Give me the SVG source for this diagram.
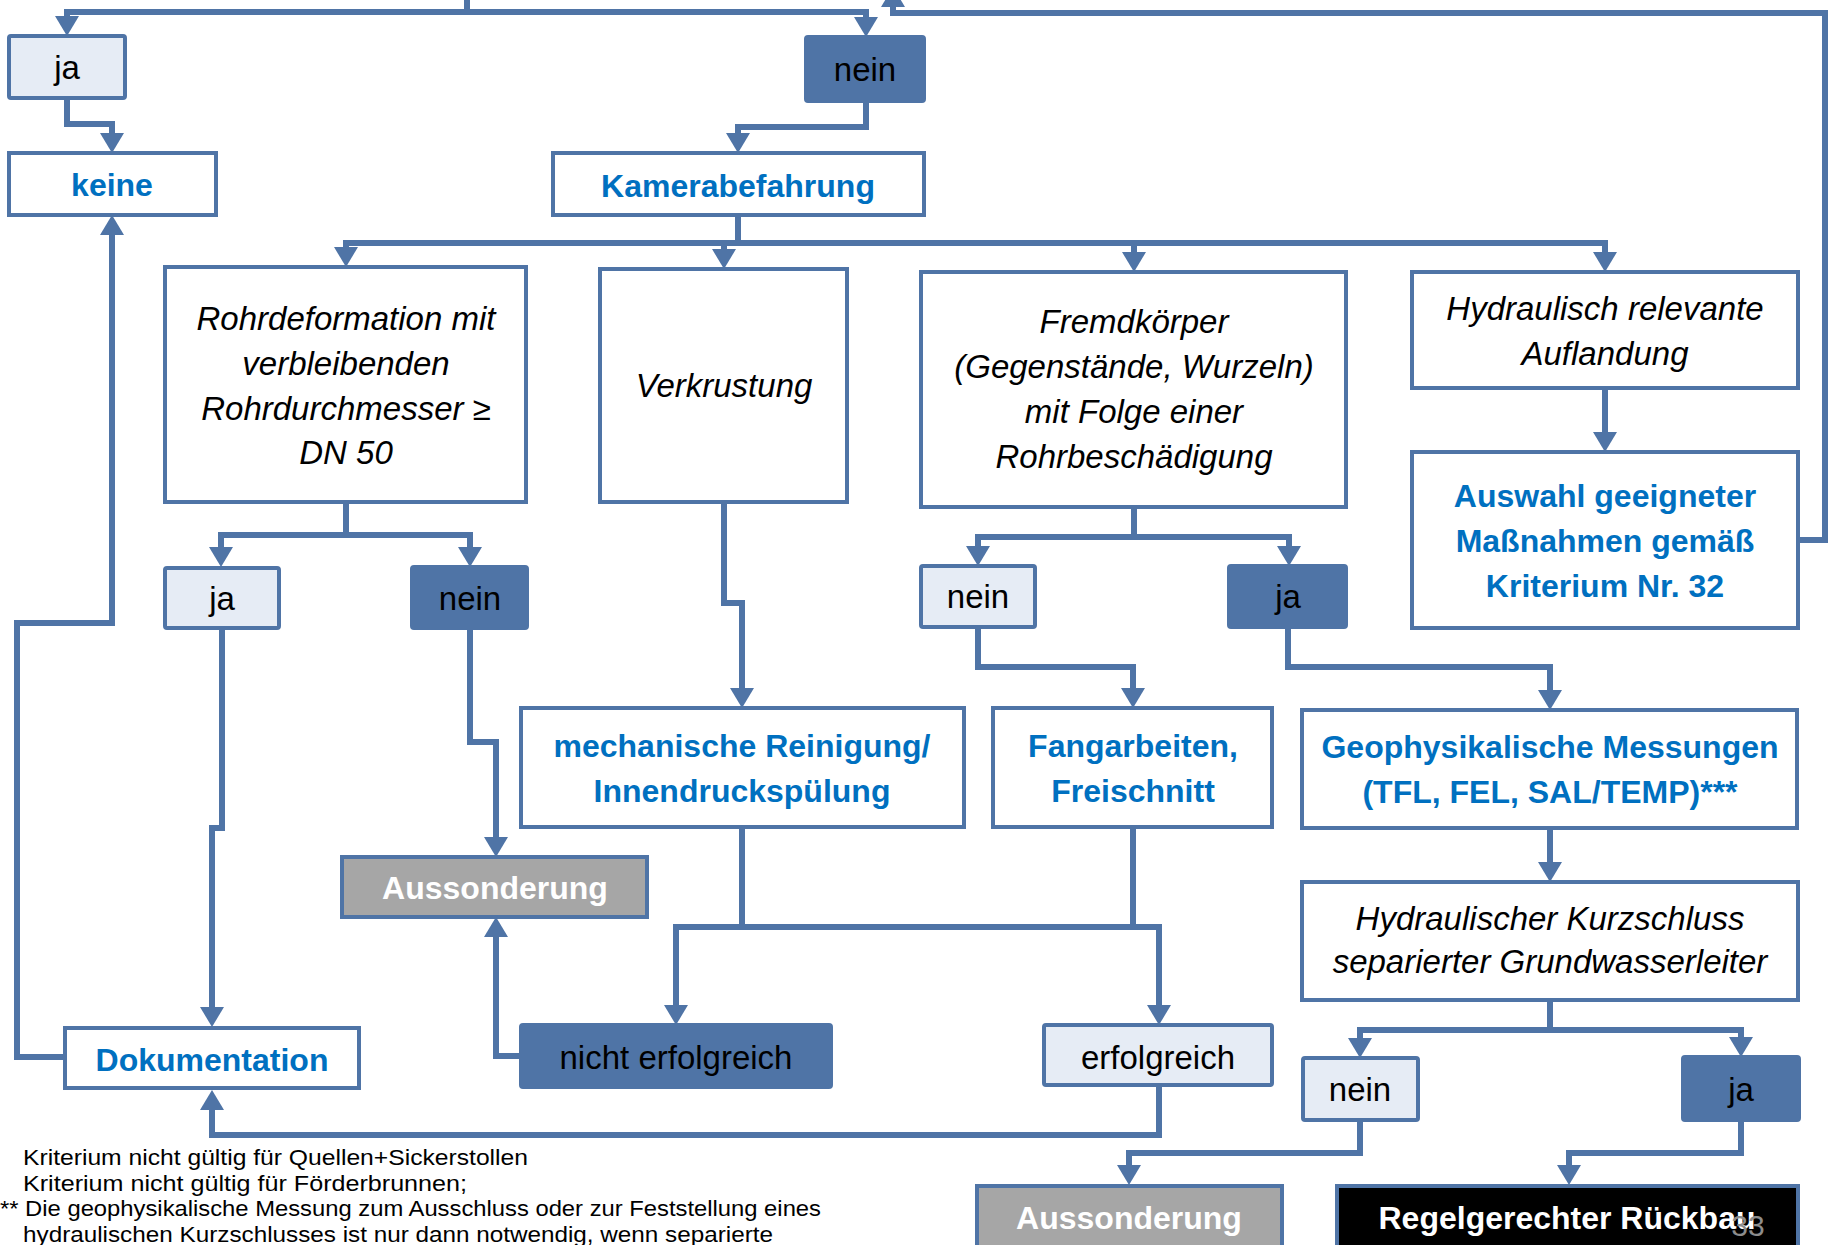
<svg xmlns="http://www.w3.org/2000/svg" width="1839" height="1245" viewBox="0 0 1839 1245">
<style>
.b{stroke:#4F74A6;stroke-width:4;}
.w{fill:#FFFFFF;}
.l{fill:#E6ECF5;}
.d{fill:#4F74A6;}
.g{fill:#A6A6A6;}
.k{fill:#000000;}
text{font-family:"Liberation Sans",Arial,sans-serif;text-anchor:middle;}
.t{font-size:33px;fill:#000;}
.i{font-size:33px;font-style:italic;fill:#000;}
.bl{font-size:32px;font-weight:bold;fill:#0070C0;}
.wh{font-size:32px;font-weight:bold;fill:#FFFFFF;}
.fn{font-size:22px;fill:#000;text-anchor:start;}
.c{fill:none;stroke:#4F74A6;stroke-width:6;stroke-linejoin:miter;}
.ca{fill:none;stroke:#4F74A6;stroke-width:6;stroke-linejoin:miter;marker-end:url(#ah);}
</style>
<defs>
<marker id="ah" viewBox="0 0 20 24" refX="4" refY="12" markerWidth="20" markerHeight="24" markerUnits="userSpaceOnUse" orient="auto">
<path d="M0,0 L20,12 L0,24 z" fill="#4F74A6"/>
</marker>
</defs>
<rect width="1839" height="1245" fill="#FFFFFF"/>
<g id="connectors">
<path class="c" d="M467,-5 V12"/>
<path class="ca" d="M467,12 H67 V20"/>
<path class="ca" d="M467,12 H866 V21"/>
<path class="ca" d="M67,98 V124 H112 V137"/>
<path class="ca" d="M866,101 V127 H738 V137"/>
<path class="c" d="M738,215 V243"/>
<path class="ca" d="M738,243 H346 V251"/>
<path class="ca" d="M724,243 V253"/>
<path class="ca" d="M738,243 H1134 V256"/>
<path class="ca" d="M1134,243 H1605 V256"/>
<path class="ca" d="M1605,388 V436"/>
<path class="ca" d="M1798,540 H1825 V13 H893 V3"/>
<path class="c" d="M346,502 V535"/>
<path class="ca" d="M346,535 H221 V551"/>
<path class="ca" d="M346,535 H470 V551"/>
<path class="c" d="M1134,507 V537"/>
<path class="ca" d="M1134,537 H978 V550"/>
<path class="ca" d="M1134,537 H1289 V550"/>
<path class="ca" d="M65,1057 H17 V623 H112 V231"/>
<path class="ca" d="M222,628 V828 H212 V1011"/>
<path class="ca" d="M470,628 V742 H496 V841"/>
<path class="ca" d="M724,502 V603 H742 V692"/>
<path class="ca" d="M978,627 V667 H1133 V692"/>
<path class="ca" d="M1288,627 V667 H1550 V694"/>
<path class="ca" d="M1550,828 V866"/>
<path class="ca" d="M742,827 V927 H676 V1009"/>
<path class="ca" d="M1133,827 V927 H1159 V1009"/>
<path class="c" d="M742,927 H1133"/>
<path class="ca" d="M521,1056 H496 V933"/>
<path class="ca" d="M1159,1085 V1135 H212 V1106"/>
<path class="c" d="M1550,1000 V1030"/>
<path class="ca" d="M1550,1030 H1360 V1042"/>
<path class="ca" d="M1550,1030 H1741 V1041"/>
<path class="ca" d="M1360,1120 V1153 H1129 V1169"/>
<path class="ca" d="M1741,1120 V1153 H1569 V1169"/>
</g>
<g id="n_ja_top"><rect class="b l" x="9" y="36" width="116" height="62" rx="2"/><text class="t" x="67" y="79">ja</text></g>
<g id="n_keine"><rect class="b w" x="9" y="153" width="207" height="62"/><text class="bl" x="112" y="196">keine</text></g>
<g id="n_nein_top"><rect class="b d" x="806" y="37" width="118" height="64" rx="2"/><text class="t" x="865" y="81">nein</text></g>
<g id="n_kamera"><rect class="b w" x="553" y="153" width="371" height="62"/><text class="bl" x="738" y="197">Kamerabefahrung</text></g>
<g id="n_rohr"><rect class="b w" x="165" y="267" width="361" height="235"/>
<text class="i" x="346" y="330">Rohrdeformation mit</text>
<text class="i" x="346" y="375">verbleibenden</text>
<text class="i" x="346" y="420">Rohrdurchmesser ≥</text>
<text class="i" x="346" y="464">DN 50</text></g>
<g id="n_verk"><rect class="b w" x="600" y="269" width="247" height="233"/><text class="i" x="724" y="397">Verkrustung</text></g>
<g id="n_fremd"><rect class="b w" x="921" y="272" width="425" height="235"/>
<text class="i" x="1134" y="333">Fremdkörper</text>
<text class="i" x="1134" y="378">(Gegenstände, Wurzeln)</text>
<text class="i" x="1134" y="423">mit Folge einer</text>
<text class="i" x="1134" y="468">Rohrbeschädigung</text></g>
<g id="n_hydrel"><rect class="b w" x="1412" y="272" width="386" height="116"/>
<text class="i" x="1605" y="320">Hydraulisch relevante</text>
<text class="i" x="1605" y="365">Auflandung</text></g>
<g id="n_auswahl"><rect class="b w" x="1412" y="452" width="386" height="176"/>
<text class="bl" x="1605" y="507">Auswahl geeigneter</text>
<text class="bl" x="1605" y="552">Maßnahmen gemäß</text>
<text class="bl" x="1605" y="597">Kriterium Nr. 32</text></g>
<g id="n_ja_r"><rect class="b l" x="165" y="568" width="114" height="60" rx="2"/><text class="t" x="222" y="610">ja</text></g>
<g id="n_nein_r"><rect class="b d" x="412" y="567" width="115" height="61" rx="2"/><text class="t" x="470" y="610">nein</text></g>
<g id="n_nein_f"><rect class="b l" x="921" y="566" width="114" height="61" rx="2"/><text class="t" x="978" y="608">nein</text></g>
<g id="n_ja_f"><rect class="b d" x="1229" y="566" width="117" height="61" rx="2"/><text class="t" x="1288" y="608">ja</text></g>
<g id="n_mech"><rect class="b w" x="521" y="708" width="443" height="119"/>
<text class="bl" x="742" y="757">mechanische Reinigung/</text>
<text class="bl" x="742" y="802">Innendruckspülung</text></g>
<g id="n_fang"><rect class="b w" x="993" y="708" width="279" height="119"/>
<text class="bl" x="1133" y="757">Fangarbeiten,</text>
<text class="bl" x="1133" y="802">Freischnitt</text></g>
<g id="n_geo"><rect class="b w" x="1302" y="710" width="495" height="118"/>
<text class="bl" x="1550" y="758">Geophysikalische Messungen</text>
<text class="bl" x="1550" y="803">(TFL, FEL, SAL/TEMP)***</text></g>
<g id="n_hkurz"><rect class="b w" x="1302" y="882" width="496" height="118"/>
<text class="i" x="1550" y="930">Hydraulischer Kurzschluss</text>
<text class="i" x="1550" y="973">separierter Grundwasserleiter</text></g>
<g id="n_aus1"><rect class="b g" x="342" y="857" width="305" height="60"/><text class="wh" x="495" y="899">Aussonderung</text></g>
<g id="n_doku"><rect class="b w" x="65" y="1028" width="294" height="60"/><text class="bl" x="212" y="1071">Dokumentation</text></g>
<g id="n_nicht"><rect class="b d" x="521" y="1025" width="310" height="62" rx="2"/><text class="t" x="676" y="1069">nicht erfolgreich</text></g>
<g id="n_erfolg"><rect class="b l" x="1044" y="1025" width="228" height="60" rx="2"/><text class="t" x="1158" y="1069">erfolgreich</text></g>
<g id="n_nein_b"><rect class="b l" x="1303" y="1058" width="115" height="62" rx="2"/><text class="t" x="1360" y="1101">nein</text></g>
<g id="n_ja_b"><rect class="b d" x="1683" y="1057" width="116" height="63" rx="2"/><text class="t" x="1741" y="1101">ja</text></g>
<g id="n_aus2"><rect class="b g" x="977" y="1186" width="305" height="72"/><text class="wh" x="1129" y="1229">Aussonderung</text></g>
<g id="n_regel"><rect class="b k" x="1337" y="1186" width="461" height="72"/><text class="wh" x="1567" y="1229">Regelgerechter Rückbau</text></g>
<text x="1748" y="1236" style="font-size:30px;fill:#8C8C8C;">33</text>
<g id="footnotes">
<text class="fn" x="23" y="1165" textLength="505" lengthAdjust="spacingAndGlyphs">Kriterium nicht gültig für Quellen+Sickerstollen</text>
<text class="fn" x="23" y="1191" textLength="444" lengthAdjust="spacingAndGlyphs">Kriterium nicht gültig für Förderbrunnen;</text>
<text class="fn" x="0" y="1216" textLength="821" lengthAdjust="spacingAndGlyphs">** Die geophysikalische Messung zum Ausschluss oder zur Feststellung eines</text>
<text class="fn" x="23" y="1242" textLength="750" lengthAdjust="spacingAndGlyphs">hydraulischen Kurzschlusses ist nur dann notwendig, wenn separierte</text>
</g>
</svg>
